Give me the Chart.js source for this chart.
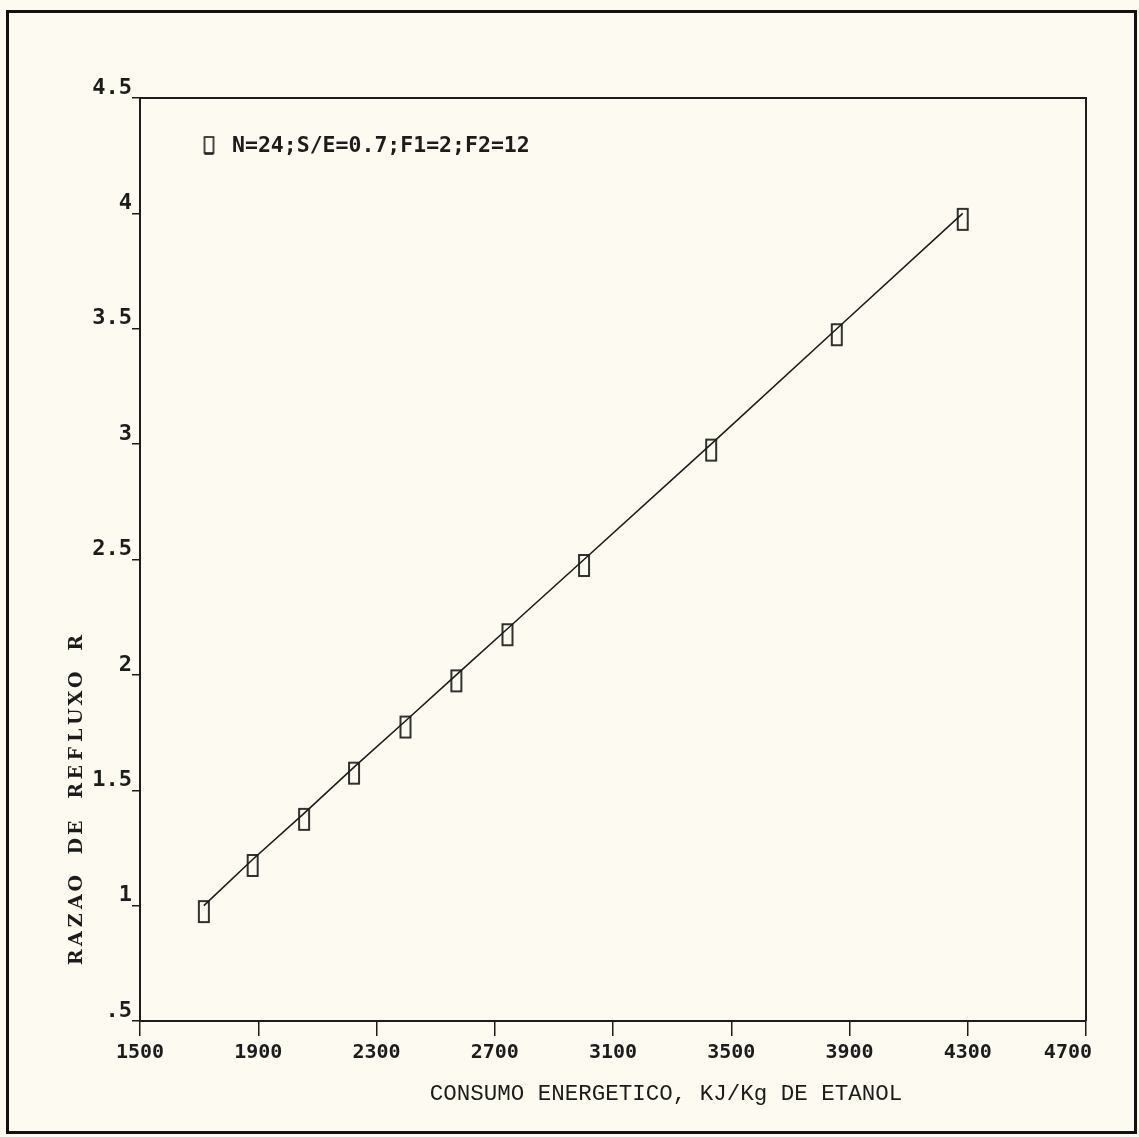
<!DOCTYPE html>
<html>
<head>
<meta charset="utf-8">
<script src="https://cdn.jsdelivr.net/npm/chart.js@4"></script>
<style>
  html, body { margin: 0; padding: 0; background: #fcfaf1; }
  #wrap { width: 1139px; height: 1137px; position: relative; }
  canvas { display: block; }
</style>
</head>
<body>
<div id="wrap"><canvas id="c" width="1139" height="1137"></canvas></div>
<script>
// ---- data ----
const energy = [1716, 1881, 2055, 2224, 2398, 2570, 2743, 3002, 3432, 3857, 4283];
const reflux = [1.0, 1.2, 1.4, 1.6, 1.8, 2.0, 2.2, 2.5, 3.0, 3.5, 4.0];
const xTickValues = [1500, 1900, 2300, 2700, 3100, 3500, 3900, 4300, 4700];
const yTickValues = [0.5, 1, 1.5, 2, 2.5, 3, 3.5, 4, 4.5];
const yTickLabels = ['.5', '1', '1.5', '2', '2.5', '3', '3.5', '4', '4.5'];
const legendLabel = 'N=24;S/E=0.7;F1=2;F2=12';
const xTitle = 'CONSUMO ENERGETICO, KJ/Kg DE ETANOL';
const yTitle = 'RAZAO DE REFLUXO R';

const INK = '#1c1c1c';
const MONO = '"DejaVu Sans Mono"';

function makeMarker(w, h, dy, lw, underline) {
  const c = document.createElement('canvas');
  const pad = 3;
  c.width = w + pad * 2;
  c.height = h + Math.abs(dy) * 2 + pad * 2;
  const g = c.getContext('2d');
  g.strokeStyle = INK;
  g.lineWidth = lw;
  const x0 = pad, y0 = (c.height - h) / 2 + dy;
  g.strokeRect(x0, y0, w, h);
  if (underline) {
    g.beginPath(); g.moveTo(x0, y0 + h + 1); g.lineTo(x0 + w, y0 + h + 1); g.stroke();
  }
  return c;
}
const pointMarker = makeMarker(10, 21, 6, 1.8, false);
const legendMarker = makeMarker(9, 16, 0, 1.6, true);

const framePlugin = {
  id: 'framePlugin',
  afterDraw(chart) {
    const ctx = chart.ctx;
    const a = chart.chartArea;
    ctx.save();
    // outer frame
    ctx.strokeStyle = '#111';
    ctx.lineWidth = 3;
    ctx.strokeRect(7.5, 11.5, 1128, 1121);
    // top and right box lines
    ctx.strokeStyle = INK;
    ctx.lineWidth = 2;
    ctx.beginPath();
    ctx.moveTo(a.left, a.top); ctx.lineTo(a.right, a.top); ctx.lineTo(a.right, a.bottom);
    ctx.stroke();
    // legend inside plot
    ctx.drawImage(legendMarker, 209 - legendMarker.width / 2, 145 - legendMarker.height / 2);
    ctx.fillStyle = INK;
    ctx.font = 'bold 21.5px ' + MONO;
    ctx.textAlign = 'left';
    ctx.textBaseline = 'middle';
    ctx.fillText(legendLabel, 232, 146);
    // x title
    ctx.font = '22.5px "Liberation Mono"';
    ctx.textAlign = 'center';
    ctx.fillText(xTitle, 666, 1094);
    // y title (rotated, spaced letters)
    ctx.translate(77, 800);
    ctx.rotate(-Math.PI / 2);
    ctx.font = 'bold 19px "DejaVu Serif"';
    const pitch = 18.5;
    const total = yTitle.length * pitch;
    for (let i = 0; i < yTitle.length; i++) {
      ctx.fillText(yTitle[i], -total / 2 + pitch * i + pitch / 2, 0);
    }
    ctx.restore();
  }
};

new Chart(document.getElementById('c'), {
  type: 'scatter',
  data: {
    datasets: [{
      label: legendLabel,
      data: energy.map((x, i) => ({ x: x, y: reflux[i] })),
      showLine: true,
      borderColor: INK,
      borderWidth: 1.6,
      pointStyle: pointMarker,
      pointRadius: 8,
      fill: false,
      tension: 0
    }]
  },
  options: {
    responsive: false,
    animation: false,
    devicePixelRatio: 1,
    layout: { padding: { top: 98, right: 53, left: 0, bottom: 0 } },
    plugins: { legend: { display: false }, tooltip: { enabled: false } },
    scales: {
      x: {
        type: 'linear',
        min: 1500, max: 4700,
        afterBuildTicks: s => { s.ticks = xTickValues.map(v => ({ value: v })); },
        afterFit: s => { s.height = 116; },
        grid: { drawOnChartArea: false, drawTicks: true, tickLength: 15, color: INK, lineWidth: 1.5 },
        border: { color: INK, width: 2 },
        ticks: {
          color: INK,
          font: { family: MONO, size: 20, weight: 'bold' },
          padding: 5,
          maxRotation: 0,
          autoSkip: false,
          callback: (v, i) => String(xTickValues[i]) + (i === xTickValues.length - 1 ? '   ' : '')
        }
      },
      y: {
        type: 'linear',
        min: 0.5, max: 4.5,
        afterBuildTicks: s => { s.ticks = yTickValues.map(v => ({ value: v })); },
        afterFit: s => { s.width = 140; },
        grid: { drawOnChartArea: false, drawTicks: true, tickLength: 8, color: INK, lineWidth: 1.5 },
        border: { color: INK, width: 2 },
        ticks: {
          color: INK,
          font: { family: MONO, size: 22, weight: 'bold' },
          padding: 0,
          labelOffset: -10,
          autoSkip: false,
          callback: (v, i) => yTickLabels[i]
        }
      }
    }
  },
  plugins: [framePlugin]
});
</script>
</body>
</html>
